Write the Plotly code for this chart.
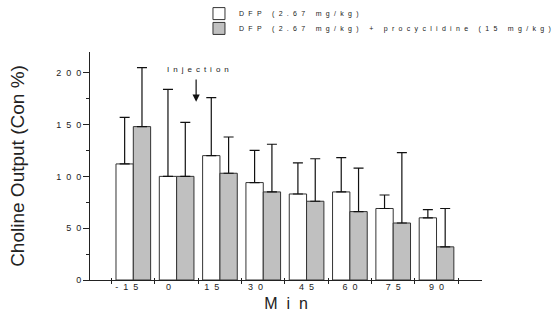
import plotly.graph_objects as go

categories = ["-15", "0", "15", "30", "45", "60", "75", "90"]
dfp = [112, 100, 120, 94, 83, 85, 69, 60]
dfp_err = [45, 84, 56, 31, 30, 33, 13, 8]
proc = [148, 100, 103, 85, 76, 66, 55, 32]
proc_err = [57, 52, 35, 46, 41, 42, 68, 37]
yticks = [0, 50, 100, 150, 200]

NB = "\u00a0"
FONT = "Arial, Liberation Sans, sans-serif"


def spaced(s, gap=2, word=3):
    return (NB * word).join((NB * gap).join(list(w)) for w in s.split(" "))


def tracked(s, px):
    return f'<span style="letter-spacing:{px}px">{s}</span>'


x = list(range(len(categories)))

fig = go.Figure()
fig.add_trace(go.Bar(
    x=x, y=dfp, name=tracked("DFP (2.67 mg/kg)", 4.3), legend="legend",
    marker=dict(color="white", line=dict(color="#333333", width=1)),
    error_y=dict(type="data", array=dfp_err, arrayminus=[0] * len(dfp),
                 symmetric=False, color="#111111", thickness=1.2, width=5),
))
fig.add_trace(go.Bar(
    x=x, y=proc, name=tracked("DFP (2.67 mg/kg) + procyclidine (15 mg/kg)", 4.3),
    legend="legend2",
    marker=dict(color="#c0c0c0", line=dict(color="#333333", width=1)),
    error_y=dict(type="data", array=proc_err, arrayminus=[0] * len(proc),
                 symmetric=False, color="#111111", thickness=1.2, width=5),
))

# invisible traces to anchor the overlay axes
fig.add_trace(go.Scatter(x=[0], y=[0], xaxis="x2", mode="markers",
                         marker=dict(opacity=0), showlegend=False, hoverinfo="skip"))
fig.add_trace(go.Scatter(x=[0], y=[0], xaxis="x3", mode="markers",
                         marker=dict(opacity=0), showlegend=False, hoverinfo="skip"))

xr = [-1, 8.05]
bounds = [i - 0.5 for i in range(len(categories) + 1)]
label_shift = [-0.15, -0.19, -0.19, -0.18, 0, 0, 0, 0]
label_pos = [i + s for i, s in zip(x, label_shift)]

leg_common = dict(xanchor="left", yanchor="top",
                  font=dict(size=7, family=FONT, color="#222222"),
                  bgcolor="rgba(0,0,0,0)", borderwidth=0)

fig.update_layout(
    width=559, height=326,
    margin=dict(l=90, r=77, t=52, b=46, autoexpand=False),
    paper_bgcolor="white", plot_bgcolor="white",
    barmode="group", bargap=0.2, bargroupgap=0,
    font=dict(family=FONT, color="#222222"),
    showlegend=True,
    legend=dict(x=0.278, y=1.232, **leg_common),
    legend2=dict(x=0.278, y=1.167, **leg_common),
    xaxis=dict(range=xr, showline=True, linecolor="#222222", linewidth=1,
               tickmode="array", tickvals=bounds, ticktext=[""] * len(bounds),
               ticks="outside", ticklen=3, tickcolor="#222222",
               showgrid=False, zeroline=False,
               title=dict(text=spaced("Min", gap=2), font=dict(size=16, family=FONT),
                          standoff=12)),
    xaxis2=dict(range=xr, overlaying="x", anchor="y", side="bottom",
                tickmode="array", tickvals=bounds, ticktext=[""] * len(bounds),
                ticks="inside", ticklen=2, tickcolor="#222222",
                showline=False, showgrid=False, zeroline=False),
    xaxis3=dict(range=xr, overlaying="x", anchor="y", side="bottom",
                tickmode="array", tickvals=label_pos,
                ticktext=[spaced(c, gap=2) for c in categories],
                ticks="", showline=False, showgrid=False, zeroline=False,
                tickfont=dict(size=9, family=FONT, color="#222222")),
    yaxis=dict(range=[0, 220], showline=True, linecolor="#222222", linewidth=1,
               tickmode="array", tickvals=yticks,
               ticktext=[spaced(str(v), gap=2) for v in yticks],
               ticks="outside", ticklen=6, tickcolor="#222222",
               minor=dict(tickmode="array", tickvals=[25, 75, 125, 175],
                          ticks="outside", ticklen=3, tickcolor="#222222"),
               tickfont=dict(size=9, family=FONT, color="#222222"),
               showgrid=False, zeroline=False,
               title=dict(text="Choline Output (Con %)", font=dict(size=19, family=FONT),
                          standoff=26)),
)

fig.add_annotation(x=1.53, y=203, xref="x", yref="y", text=tracked("Injection", 4),
                   showarrow=False, font=dict(size=8, family=FONT, color="#222222"))
fig.add_annotation(x=1.45, y=172, xref="x", yref="y", ax=1.45, ay=195,
                   axref="x", ayref="y", text="", showarrow=True,
                   arrowhead=2, arrowsize=1.2, arrowwidth=1.2, arrowcolor="#111111")

fig.write_html("out.html")
